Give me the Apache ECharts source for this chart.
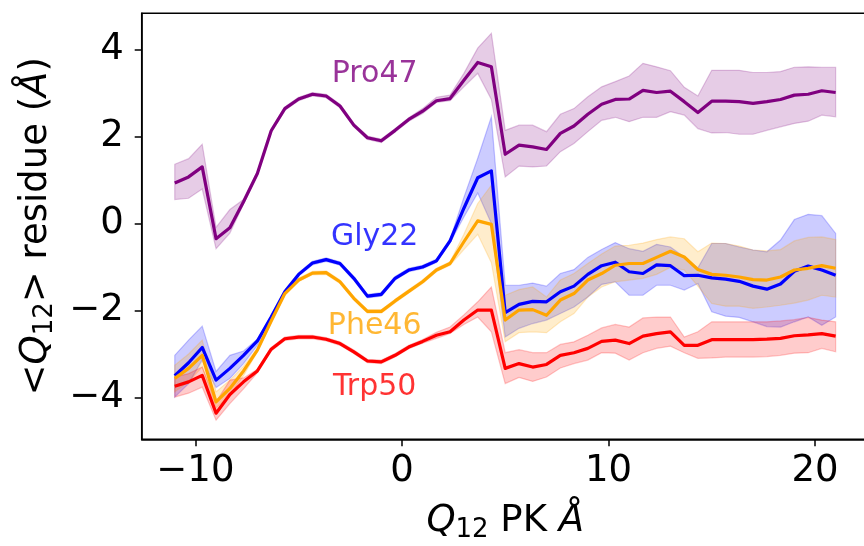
<!DOCTYPE html>
<html>
<head>
<meta charset="utf-8">
<script src="https://cdn.jsdelivr.net/npm/echarts@6/dist/echarts.min.js"></script>
<style>
  html, body { margin: 0; padding: 0; background: #fff; }
  #chart { width: 864px; height: 546px; }
</style>
</head>
<body>
<div id="chart"></div>
<script>
// Reaction coordinate (Å)
const xs = [-11, -10.33, -9.67, -9, -8.33, -7.67, -7, -6.33, -5.67, -5, -4.33, -3.67, -3,
  -2.33, -1.67, -1, -0.33, 0.33, 1, 1.67, 2.33, 3, 3.67, 4.33, 5, 5.67, 6.33, 7, 7.67,
  8.33, 9, 9.67, 10.33, 11, 11.67, 12.33, 13, 13.67, 14.33, 15, 15.67, 16.33, 17, 17.67,
  18.33, 19, 19.67, 20.33, 21];

// Pro47: mean and band limits
const pro47 = [0.93, 1.07, 1.30, -0.35, -0.10, 0.50, 1.15, 2.13, 2.64, 2.86, 2.97, 2.93, 2.70,
  2.26, 1.97, 1.90, 2.14, 2.39, 2.58, 2.82, 2.87, 3.29, 3.70, 3.60, 1.59, 1.80, 1.76, 1.70, 2.07,
  2.24, 2.51, 2.74, 2.85, 2.86, 3.06, 3.01, 3.04, 2.80, 2.55, 2.81, 2.81, 2.80, 2.76, 2.80,
  2.85, 2.95, 2.97, 3.05, 3.01];
const pro47Hi = [1.36, 1.49, 1.82, -0.09, 0.32, 0.55, 1.19, 2.17, 2.68, 2.90, 3.01, 2.97, 2.74,
  2.30, 2.01, 1.94, 2.18, 2.43, 2.64, 2.90, 2.95, 3.45, 4.03, 4.37, 2.14, 2.26, 2.26, 2.11, 2.51,
  2.64, 2.91, 3.14, 3.26, 3.39, 3.68, 3.60, 3.51, 3.13, 2.93, 3.52, 3.52, 3.52, 3.47, 3.47,
  3.49, 3.59, 3.60, 3.59, 3.59];
const pro47Lo = [0.55, 0.58, 0.79, -0.58, -0.22, 0.45, 1.11, 2.09, 2.60, 2.82, 2.93, 2.89, 2.66,
  2.22, 1.93, 1.86, 2.10, 2.35, 2.53, 2.78, 2.82, 3.14, 3.45, 2.85, 1.07, 1.32, 1.30, 1.32, 1.65,
  1.84, 2.11, 2.37, 2.44, 2.34, 2.44, 2.44, 2.57, 2.49, 2.18, 2.08, 2.09, 2.05, 2.05, 2.14,
  2.22, 2.30, 2.35, 2.49, 2.45];

// Gly22
const gly22 = [-3.50, -3.20, -2.85, -3.60, -3.33, -3.03, -2.70, -2.15, -1.57, -1.17, -0.91, -0.83,
  -0.92, -1.26, -1.67, -1.63, -1.26, -1.07, -1.00, -0.86, -0.40, 0.35, 1.05, 1.21, -2.05, -1.86,
  -1.79, -1.80, -1.57, -1.44, -1.17, -0.97, -0.89, -1.11, -1.15, -0.95, -0.97, -1.20, -1.19,
  -1.25, -1.28, -1.33, -1.44, -1.51, -1.39, -1.10, -0.98, -1.07, -1.19];
const gly22Hi = [-3.03, -2.68, -2.36, -3.40, -3.03, -2.93, -2.66, -2.11, -1.53, -1.13, -0.87, -0.79,
  -0.88, -1.22, -1.63, -1.59, -1.22, -1.03, -0.96, -0.82, -0.36, 0.60, 1.50, 2.45, -1.42, -1.42,
  -1.37, -1.44, -1.15, -1.06, -0.78, -0.60, -0.44, -0.58, -0.64, -0.48, -0.54, -0.77, -1.02,
  -0.46, -0.46, -0.54, -0.61, -0.65, -0.38, 0.09, 0.21, 0.18, -0.23];
const gly22Lo = [-3.99, -3.68, -3.14, -3.77, -3.56, -3.22, -2.80, -2.19, -1.61, -1.21, -0.95, -0.87,
  -0.96, -1.30, -1.71, -1.67, -1.30, -1.11, -1.04, -0.90, -0.44, 0.15, 0.70, 0.00, -2.61, -2.41,
  -2.30, -2.22, -2.07, -1.92, -1.69, -1.40, -1.34, -1.65, -1.65, -1.42, -1.42, -1.53, -1.38,
  -2.03, -2.13, -2.16, -2.26, -2.37, -2.38, -2.26, -2.15, -2.34, -2.15];

// Phe46
const phe46 = [-3.56, -3.33, -3.03, -4.10, -3.79, -3.39, -2.91, -2.24, -1.61, -1.30, -1.14, -1.13,
  -1.34, -1.72, -2.02, -2.02, -1.78, -1.56, -1.34, -1.07, -0.92, -0.42, 0.06, -0.02, -2.22, -1.99,
  -1.98, -2.11, -1.76, -1.61, -1.30, -1.15, -0.96, -0.92, -0.92, -0.78, -0.64, -0.77, -1.06,
  -1.17, -1.19, -1.23, -1.29, -1.30, -1.23, -1.07, -1.03, -0.97, -1.03];
const phe46Hi = [-3.26, -3.00, -2.68, -3.87, -3.60, -3.28, -2.87, -2.20, -1.57, -1.26, -1.10, -1.09,
  -1.30, -1.68, -1.98, -1.98, -1.74, -1.52, -1.30, -1.03, -0.88, -0.25, 0.46, 0.88, -1.65, -1.52,
  -1.46, -1.69, -1.30, -1.15, -0.92, -0.70, -0.52, -0.50, -0.45, -0.37, -0.31, -0.35, -0.65,
  -0.45, -0.46, -0.52, -0.61, -0.63, -0.60, -0.40, -0.32, -0.31, -0.37];
const phe46Lo = [-3.87, -3.64, -3.30, -4.24, -3.95, -3.50, -2.95, -2.28, -1.65, -1.34, -1.18, -1.17,
  -1.38, -1.76, -2.06, -2.06, -1.82, -1.60, -1.38, -1.11, -0.96, -0.60, -0.25, -0.90, -2.72, -2.51,
  -2.49, -2.51, -2.26, -2.07, -1.69, -1.46, -1.34, -1.30, -1.26, -1.17, -1.01, -1.07, -1.44,
  -1.84, -1.90, -1.90, -1.95, -1.92, -1.88, -1.83, -1.76, -1.65, -1.69];

// Trp50
const trp50 = [-3.74, -3.64, -3.49, -4.36, -3.93, -3.64, -3.39, -2.89, -2.65, -2.61, -2.61, -2.66,
  -2.76, -2.95, -3.16, -3.18, -3.03, -2.84, -2.71, -2.57, -2.49, -2.22, -1.99, -1.99, -3.33, -3.22,
  -3.30, -3.24, -3.03, -2.97, -2.87, -2.71, -2.68, -2.76, -2.59, -2.53, -2.49, -2.80, -2.80,
  -2.67, -2.67, -2.67, -2.67, -2.66, -2.64, -2.58, -2.56, -2.53, -2.59];
const trp50Hi = [-3.53, -3.45, -3.30, -4.10, -3.60, -3.55, -3.35, -2.85, -2.61, -2.57, -2.57, -2.62,
  -2.72, -2.91, -3.12, -3.14, -2.99, -2.80, -2.67, -2.50, -2.38, -2.10, -1.80, -1.46, -2.97, -2.90,
  -2.97, -2.97, -2.78, -2.72, -2.57, -2.40, -2.32, -2.38, -2.17, -2.15, -2.15, -2.61, -2.49,
  -2.26, -2.26, -2.26, -2.26, -2.26, -2.24, -2.21, -2.16, -2.22, -2.26];
const trp50Lo = [-3.99, -3.90, -3.76, -4.52, -4.14, -3.80, -3.43, -2.93, -2.69, -2.65, -2.65, -2.70,
  -2.80, -2.99, -3.20, -3.22, -3.07, -2.88, -2.75, -2.64, -2.53, -2.32, -2.15, -2.49, -3.68, -3.54,
  -3.63, -3.53, -3.32, -3.22, -3.14, -2.97, -2.98, -3.14, -2.97, -2.87, -2.82, -2.97, -3.10,
  -3.09, -3.07, -3.07, -3.07, -3.06, -3.03, -2.98, -2.97, -2.87, -2.95];

// Axis ticks
const xTicks = [-10, 0, 10, 20];
const yTicks = [-4, -2, 0, 2, 4];

// Residue labels: name, x, y (label centre, data units)
const labelNames = ['Pro47', 'Gly22', 'Phe46', 'Trp50'];
const labelX = [-1.32, -1.32, -1.32, -1.32];
const labelY = [3.44, -0.31, -2.35, -3.76];

const COLORS = { pro: '#800080', gly: '#0000ff', phe: '#ffa500', trp: '#ff0000' };
const FONT = 'DejaVu Sans';

function hexA(hex, a) {
  const n = parseInt(hex.slice(1), 16);
  return 'rgba(' + ((n >> 16) & 255) + ',' + ((n >> 8) & 255) + ',' + (n & 255) + ',' + a + ')';
}

// Shaded spread between the lower and upper limits, drawn as one polygon
function bandSeries(lo, hi, color) {
  const rows = xs.map((x, i) => [x, lo[i], hi[i]]);
  return {
    type: 'custom',
    data: rows,
    encode: { x: 0, y: [1, 2] },
    silent: true,
    z: 1,
    renderItem: function (params, api) {
      if (params.dataIndex !== 0) return null;
      const top = rows.map(r => api.coord([r[0], r[2]]));
      const bot = rows.map(r => api.coord([r[0], r[1]])).reverse();
      return {
        type: 'polygon',
        shape: { points: top.concat(bot) },
        style: { fill: hexA(color, 0.2), stroke: hexA(color, 0.22), lineWidth: 1.2 }
      };
    }
  };
}

function lineSeries(ys, color) {
  return {
    type: 'line',
    data: xs.map((x, i) => [x, ys[i]]),
    showSymbol: false,
    symbol: 'none',
    silent: true,
    z: 3,
    lineStyle: { color: color, width: 3.2, join: 'round' }
  };
}

const minusFmt = v => String(v).replace('-', '\u2212');

const labelColors = [COLORS.pro, COLORS.gly, COLORS.phe, COLORS.trp];

const titleStyle = {
  fontSize: 37, fontFamily: FONT, color: '#000', lineHeight: 44,
  rich: {
    q: { fontSize: 37, fontFamily: FONT, fontStyle: 'italic', color: '#000', lineHeight: 44 },
    s: { fontSize: 26, fontFamily: FONT, color: '#000', lineHeight: 24, verticalAlign: 'bottom' }
  }
};

const chart = echarts.init(document.getElementById('chart'), null, { renderer: 'canvas' });
chart.setOption({
  animation: false,
  backgroundColor: '#fff',
  grid: {
    left: 141.7, top: 13.3, width: 727, height: 426,
    outerBoundsMode: 'none', containLabel: false,
    show: true, borderColor: '#000', borderWidth: 1.5, backgroundColor: 'transparent'
  },
  xAxis: {
    type: 'value', min: -12.6, max: 22.6,
    axisLine: { show: true, onZero: false, lineStyle: { color: '#000', width: 1.5 } },
    axisTick: { show: true, length: 7, lineStyle: { color: '#000', width: 1.5 }, customValues: xTicks },
    axisLabel: {
      customValues: xTicks, formatter: minusFmt, fontSize: 37, fontFamily: FONT,
      color: '#000', margin: 14
    },
    splitLine: { show: false },
    name: '{q|Q}{s|12} PK {q|Å}',
    nameLocation: 'middle',
    nameGap: 60,
    nameTextStyle: titleStyle
  },
  yAxis: {
    type: 'value', min: -4.96, max: 4.83,
    axisLine: { show: true, onZero: false, lineStyle: { color: '#000', width: 1.5 } },
    axisTick: { show: true, length: 7, lineStyle: { color: '#000', width: 1.5 }, customValues: yTicks },
    axisLabel: {
      customValues: yTicks, formatter: minusFmt, fontSize: 37, fontFamily: FONT,
      color: '#000', margin: 18
    },
    splitLine: { show: false },
    name: '<{q|Q}{s|12}> residue ({q|Å})',
    nameLocation: 'middle',
    nameGap: 82,
    nameTextStyle: titleStyle
  },
  series: [
    bandSeries(gly22Lo, gly22Hi, COLORS.gly),
    bandSeries(phe46Lo, phe46Hi, COLORS.phe),
    bandSeries(pro47Lo, pro47Hi, COLORS.pro),
    bandSeries(trp50Lo, trp50Hi, COLORS.trp),
    lineSeries(gly22, COLORS.gly),
    lineSeries(phe46, COLORS.phe),
    lineSeries(pro47, COLORS.pro),
    lineSeries(trp50, COLORS.trp),
    {
      type: 'scatter',
      silent: true,
      z: 5,
      symbolSize: 1,
      itemStyle: { color: 'rgba(0,0,0,0)' },
      data: labelNames.map((n, i) => ({
        name: n,
        value: [labelX[i], labelY[i]],
        label: { color: labelColors[i] }
      })),
      label: {
        show: true, position: 'inside', formatter: p => p.name,
        fontSize: 30, fontFamily: FONT, align: 'center', verticalAlign: 'middle'
      }
    }
  ]
});
</script>
</body>
</html>
